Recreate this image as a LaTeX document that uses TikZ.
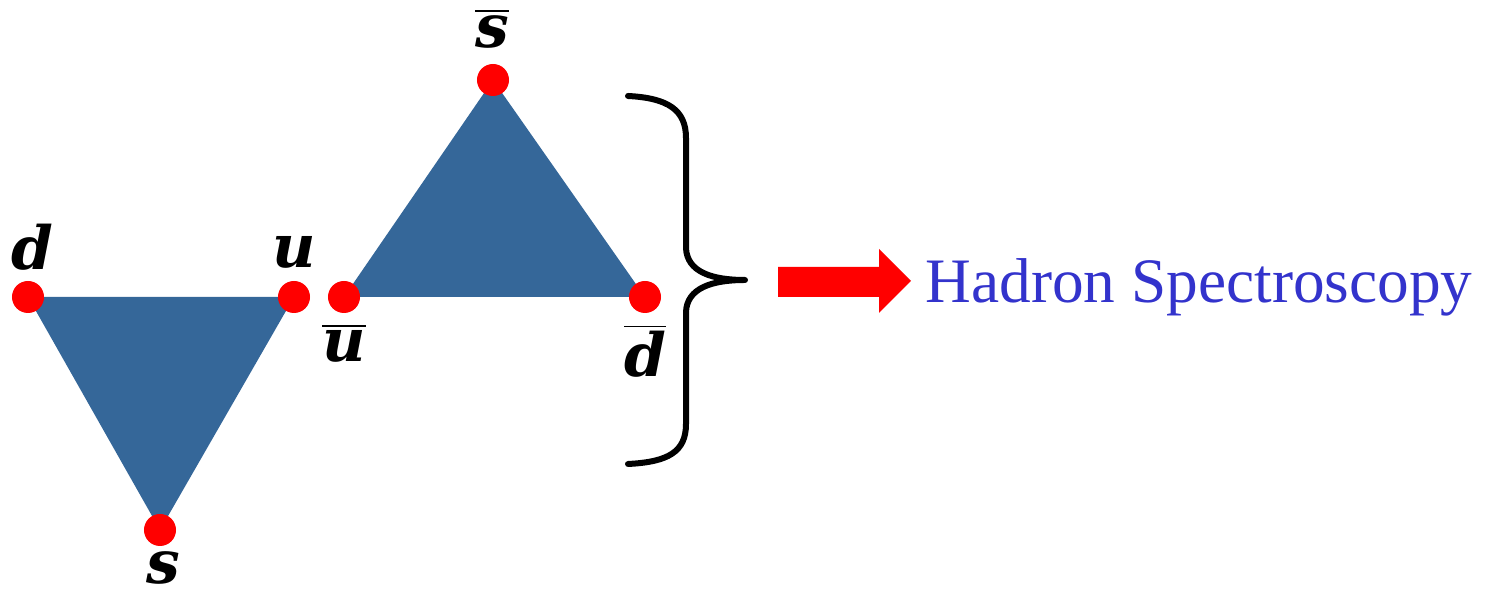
\documentclass[tikz,border=0pt]{standalone}
\usepackage{fontspec}
\setmainfont{Liberation Serif}
\newfontfamily\qfont{DejaVu Serif}
\definecolor{triblue}{RGB}{53,103,153}
\definecolor{txtblue}{RGB}{51,51,204}
\begin{document}
\begin{tikzpicture}[x=0.01cm,y=-0.01cm,
  dot/.style={circle,fill=red,inner sep=0pt,minimum size=0.32cm},
  tri/.style={fill=triblue},
  qlabel/.style={anchor=base,inner sep=0pt,font=\fontsize{17}{20}\selectfont\qfont\bfseries\itshape},
  bracestyle/.style={line width=0.06cm,line cap=round,line join=round}]
\useasboundingbox (0,0) rectangle (1499,595);
% vertex coordinates
\coordinate (pd) at (28,297);
\coordinate (pu) at (294,297);
\coordinate (ps) at (160,530);
\coordinate (pub) at (344,297);
\coordinate (pdb) at (645,297);
\coordinate (psb) at (493,80);
% triangles
\fill[tri] (pd) -- (pu) -- (ps) -- cycle;
\fill[tri] (pub) -- (pdb) -- (psb) -- cycle;
% dots
\node[dot] (d) at (pd) {};
\node[dot] (u) at (pu) {};
\node[dot] (s) at (ps) {};
\node[dot] (ub) at (pub) {};
\node[dot] (db) at (pdb) {};
\node[dot] (sb) at (psb) {};
% labels
\node[qlabel] (ld) at (32,270) {d};
\node[qlabel] (lu) at (294,268) {u};
\node[qlabel] (ls) at (163,584) {s};
\node[qlabel] (lsb) at (492,48) {$\overline{\mbox{\qfont\bfseries\itshape s}}$};
\node[qlabel] (lub) at (344,362) {$\overline{\mbox{\qfont\bfseries\itshape u}}$};
\node[qlabel] (ldb) at (645,377) {$\overline{\mbox{\qfont\bfseries\itshape d}}$};
% brace
\coordinate (btop) at (628,96);
\coordinate (btip) at (745,280);
\coordinate (bbot) at (628,464);
\draw[bracestyle] (btop) .. controls (668,98) and (686,110) .. (686,138)
  -- (686,248) .. controls (687,272) and (712,280) .. (btip)
  .. controls (712,280) and (687,288) .. (686,312)
  -- (686,424) .. controls (686,452) and (668,462) .. (bbot);
% arrow
\fill[red] (778,267) -- (879,267) -- (879,249) -- (911,281) -- (879,313) -- (879,297) -- (778,297) -- cycle;
% text
\node[anchor=base west,inner sep=0pt,text=txtblue,font=\fontsize{18}{22}\selectfont] (hs) at (925,303) {Hadron Spectroscopy};
\end{tikzpicture}
\end{document}
